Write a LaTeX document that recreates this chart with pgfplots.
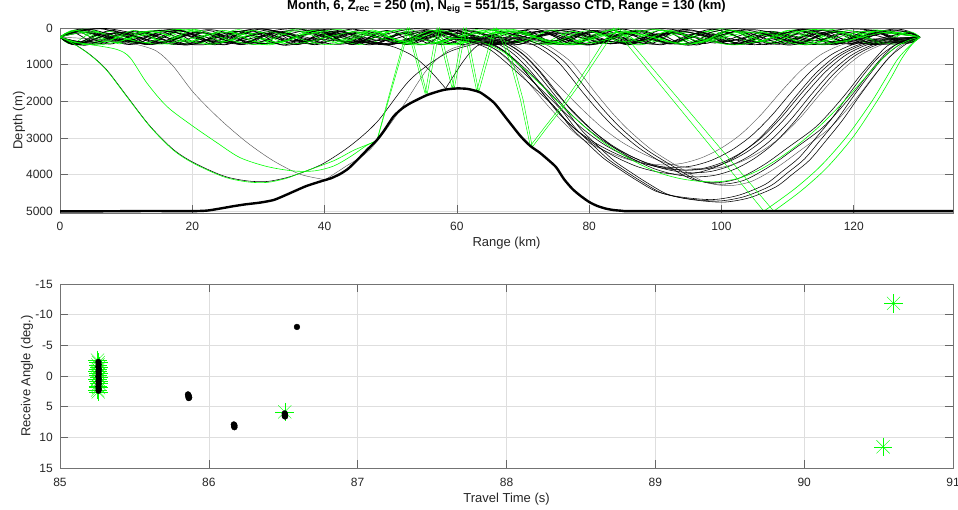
\documentclass[border=0pt]{standalone}
\usepackage{pgfplots}
\usepackage{pgfplotstable}
\pgfplotsset{compat=1.18}
\usepackage{fontspec}
\setmainfont{Liberation Sans}

\definecolor{rgreen}{rgb}{0,1,0}

\pgfplotsset{
  mstyle/.style={
    scale only axis, width=893pt,
    axis line style={draw=black!55, line width=0.6pt},
    tick align=inside, major tick length=8pt,
    tick style={black!60, line width=0.6pt},
    grid=major, major grid style={black!13, line width=0.5pt},
    ticklabel style={font=\fontsize{12}{14}\selectfont, text=black!85},
    label style={font=\fontsize{13}{15}\selectfont, text=black!85},
    /pgf/number format/assume math mode=true,
    /pgf/number format/1000 sep={},
    scaled ticks=false,
  },
  blkch/.style={no markers, color=black, line width=0.7pt, smooth, tension=0.5},
  blkray/.style={no markers, color=black, line width=0.55pt, smooth, tension=0.5},
  fntray/.style={no markers, color=black!65, line width=0.45pt, smooth, tension=0.5},
  grnray/.style={no markers, color=rgreen, line width=0.6pt, smooth, tension=0.5},
  grnsharp/.style={no markers, color=rgreen, line width=0.5pt, sharp plot},
}

% arrivals: travel time (s), receive angle (deg)
\pgfplotstableread{
t       a
85.252  -2.6
85.258  -2.2
85.254  -1.8
85.262  -1.5
85.256  -1.1
85.252  -0.8
85.260  -0.4
85.255  -0.1
85.262  0.2
85.253  0.5
85.258  0.9
85.261  1.2
85.254  1.6
85.259  1.9
85.252  2.3
85.257  2.6
86.510  5.85
90.600  -11.85
90.530  11.55
}\greenarrivals
\pgfplotstableread{
t       a
85.258  -2.3
85.260  -1.9
85.258  -1.5
85.261  -1.1
85.259  -0.7
85.260  -0.3
85.258  0.1
85.261  0.5
85.259  0.9
85.260  1.3
85.258  1.7
85.260  2.1
85.259  2.4
85.860  3.0
85.865  3.2
85.862  3.35
85.868  3.5
85.865  3.6
86.168  7.9
86.172  8.05
86.170  8.2
86.172  8.35
86.510  6.1
86.512  6.3
86.510  6.5
86.512  6.6
86.592  -8.0
}\blackarrivals

\begin{document}
\begin{tikzpicture}
\useasboundingbox (0,0) rectangle (958pt,510pt);

% ---------------- arrivals ----------------
\begin{axis}[mstyle,
  at={(60pt,42pt)}, anchor=south west, height=184pt,
  xmin=85, xmax=91, ymin=-15, ymax=15, y dir=reverse,
  xtick={85,86,...,91}, ytick={-15,-10,...,15},
  xticklabel style={anchor=center, yshift=-14pt},
  yticklabel style={anchor=east, inner sep=0pt, xshift=-7pt},
  xlabel={Travel Time (s)}, ylabel={Receive Angle (deg.)},
  xlabel style={at={(axis description cs:0.5,-0.168)}, anchor=center},
  ylabel style={at={(axis description cs:-0.037,0.5)}, anchor=center},
]
% asterisks drawn as plus and cross overlaid
\addplot[only marks, mark=+, mark size=9.3pt, draw=rgreen] table[x=t, y=a] {\greenarrivals};
\addplot[only marks, mark=x, mark size=9.3pt, draw=rgreen] table[x=t, y=a] {\greenarrivals};
\addplot[only marks, mark=*, mark size=2.9pt, color=black] table[x=t, y=a] {\blackarrivals};
\end{axis}

% ---------------- ray paths ----------------
\begin{axis}[mstyle,
  at={(60pt,297pt)}, anchor=south west, height=185pt,
  xmin=0, xmax=135, ymin=0, ymax=5050, y dir=reverse,
  xtick={0,20,...,120}, ytick={0,1000,...,5000},
  xticklabel style={anchor=center, yshift=-13pt},
  yticklabel style={anchor=east, inner sep=0pt, xshift=-7pt},
  xlabel={Range (km)}, ylabel={Depth (m)},
  xlabel style={at={(axis description cs:0.5,-0.162)}, anchor=center},
  ylabel style={at={(axis description cs:-0.046,0.5)}, anchor=center},
  title={\bfseries Month, 6, Z\textsubscript{rec} = 250 (m), N\textsubscript{eig} = 551/15, Sargasso CTD, Range = 130 (km)},
  title style={at={(axis description cs:0.5,1.081)}, anchor=center, font=\fontsize{13}{15}\selectfont, text=black},
]
% channel rays (black)
\addplot[blkch] coordinates {(0,250)(2.5,80)(7.5,440)(12.5,95)(17.5,425)(22.5,70)(27.5,445)(32.5,90)(37.5,430)(42.5,80)(47.5,440)(52.5,100)(57.5,420)(62.5,75)(67.5,445)(72.5,85)(77.5,435)(82.5,80)(87.5,440)(92.5,95)(97.5,425)(102.5,70)(107.5,445)(112.5,90)(117.5,430)(122.5,80)(127.5,400)(130,250)};
\addplot[blkch] coordinates {(0,250)(3,410)(9,110)(15,400)(21,120)(27,415)(33,105)(39,405)(45,115)(51,410)(57,110)(63,400)(69,120)(75,415)(81,105)(87,405)(93,115)(99,410)(105,110)(111,400)(117,120)(123,415)(130,250)};
\addplot[blkch] coordinates {(0,250)(3.5,60)(10.5,450)(17.5,65)(24.5,445)(31.5,55)(38.5,455)(45.5,60)(52.5,450)(59.5,70)(66.5,445)(73.5,55)(80.5,450)(87.5,60)(94.5,455)(101.5,65)(108.5,445)(115.5,60)(122.5,450)(130,250)};
\addplot[blkch] coordinates {(0,250)(4,380)(12,140)(20,385)(28,135)(36,375)(44,145)(52,380)(60,140)(68,385)(76,135)(84,380)(92,145)(100,375)(108,140)(116,380)(124,140)(130,250)};
\addplot[blkch] coordinates {(0,250)(4.5,40)(13.5,430)(22.5,45)(31.5,425)(40.5,35)(49.5,435)(58.5,40)(67.5,430)(76.5,45)(85.5,425)(94.5,40)(103.5,435)(112.5,40)(121.5,430)(130,250)};
\addplot[blkch] coordinates {(0,250)(1.9,110)(5.7,420)(9.5,115)(13.3,425)(17.1,105)(20.9,420)(24.7,110)(28.5,415)(32.3,115)(36.1,425)(39.9,105)(43.7,420)(47.5,110)(51.3,415)(55.1,115)(58.9,425)(62.7,105)(66.5,420)(70.3,110)(74.1,415)(77.9,115)(81.7,425)(85.5,105)(89.3,420)(93.1,110)(96.9,415)(100.7,115)(104.5,425)(108.3,105)(112.1,420)(115.9,110)(119.7,415)(123.5,115)(127.3,400)(130,250)};
% channel rays (green)
\addplot[grnray] coordinates {(0,250)(2.5,430)(7.5,90)(12.5,425)(17.5,95)(22.5,435)(27.5,85)(32.5,430)(37.5,90)(42.5,425)(47.5,95)(52.5,430)(57.5,90)(62.5,435)(67.5,85)(72.5,430)(77.5,90)(82.5,425)(87.5,95)(92.5,430)(97.5,90)(102.5,435)(107.5,85)(112.5,430)(117.5,90)(122.5,425)(127.5,100)(130,250)};
\addplot[grnray] coordinates {(0,250)(3,50)(9,400)(15,55)(21,395)(27,45)(33,405)(39,50)(45,400)(51,55)(57,395)(63,45)(69,405)(75,50)(81,400)(87,55)(93,395)(99,45)(105,405)(111,50)(117,400)(123,55)(130,250)};
\addplot[grnray] coordinates {(0,250)(3.5,460)(10.5,120)(17.5,455)(24.5,125)(31.5,460)(38.5,115)(45.5,455)(52.5,120)(59.5,460)(66.5,125)(73.5,455)(80.5,120)(87.5,460)(94.5,115)(101.5,455)(108.5,120)(115.5,460)(122.5,125)(130,250)};
\addplot[grnray] coordinates {(0,250)(4,30)(12,420)(20,35)(28,415)(36,25)(44,420)(52,30)(60,425)(68,35)(76,415)(84,30)(92,420)(100,25)(108,420)(116,30)(124,415)(130,250)};
\addplot[grnray] coordinates {(0,250)(1.8,440)(5.4,90)(9,435)(12.6,95)(16.2,440)(19.8,85)(23.4,445)(27,90)(30.6,440)(34.2,95)(37.8,435)(41.4,90)(45,440)(48.6,85)(52.2,445)(55.8,90)(59.4,440)(63,95)(66.6,435)(70.2,90)(73.8,440)(77.4,85)(81,445)(84.6,90)(88.2,440)(91.8,95)(95.4,435)(99,90)(102.6,440)(106.2,85)(109.8,445)(113.4,90)(117,440)(120.6,95)(124.2,435)(127.8,120)(130,250)};
% more channel rays (black)
\addplot[blkch] coordinates {(0,250)(2.75,460)(8.25,150)(13.75,455)(19.25,155)(24.75,460)(30.25,145)(35.75,455)(41.25,150)(46.75,460)(52.25,150)(57.75,455)(63.25,145)(68.75,460)(74.25,155)(79.75,455)(85.25,150)(90.75,460)(96.25,145)(101.75,455)(107.25,150)(112.75,460)(118.25,155)(123.75,455)(130,250)};
\addplot[blkch] coordinates {(0,250)(5,400)(15,70)(25,395)(35,75)(45,405)(55,70)(65,400)(75,65)(85,400)(95,75)(105,395)(115,70)(125,400)(130,250)};
\addplot[blkch] coordinates {(0,250)(3.25,100)(9.75,350)(16.25,95)(22.75,355)(29.25,100)(35.75,345)(42.25,105)(48.75,350)(55.25,95)(61.75,355)(68.25,100)(74.75,350)(81.25,105)(87.75,345)(94.25,100)(100.75,355)(107.25,95)(113.75,350)(120.25,100)(126.75,350)(130,250)};
\addplot[blkch] coordinates {(0,250)(2.25,440)(6.75,130)(11.25,435)(15.75,135)(20.25,440)(24.75,125)(29.25,445)(33.75,130)(38.25,440)(42.75,135)(47.25,435)(51.75,130)(56.25,440)(60.75,125)(65.25,445)(69.75,130)(74.25,440)(78.75,135)(83.25,435)(87.75,130)(92.25,440)(96.75,125)(101.25,445)(105.75,130)(110.25,440)(114.75,135)(119.25,435)(123.75,130)(128.25,400)(130,250)};
\addplot[blkch] coordinates {(0,250)(6,20)(18,450)(30,25)(42,445)(54,20)(66,450)(78,25)(90,445)(102,20)(114,450)(126,30)(130,250)};
\addplot[blkch] coordinates {(0,250)(2.6,460)(7.8,60)(13,455)(18.2,65)(23.4,460)(28.6,55)(33.8,465)(39,60)(44.2,455)(49.4,65)(54.6,460)(59.8,55)(65,465)(70.2,60)(75.4,455)(80.6,65)(85.8,460)(91,55)(96.2,465)(101.4,60)(106.6,455)(111.8,65)(117,460)(122.2,60)(127.4,420)(130,250)};
\addplot[blkch] coordinates {(0,250)(3.4,30)(10.2,380)(17,35)(23.8,385)(30.6,25)(37.4,375)(44.2,30)(51,380)(57.8,35)(64.6,385)(71.4,25)(78.2,380)(85,30)(91.8,385)(98.6,35)(105.4,380)(112.2,30)(119,375)(125.8,60)(130,250)};
\addplot[blkch] coordinates {(0,250)(3.8,470)(11.4,90)(19,465)(26.6,95)(34.2,470)(41.8,85)(49.4,465)(57,90)(64.6,470)(72.2,95)(79.8,465)(87.4,90)(95,470)(102.6,85)(110.2,465)(117.8,90)(125.4,440)(130,250)};
\addplot[blkch] coordinates {(0,250)(5.5,440)(16.5,50)(27.5,445)(38.5,45)(49.5,440)(60.5,55)(71.5,445)(82.5,50)(93.5,440)(104.5,45)(115.5,445)(126.5,80)(130,250)};
\addplot[blkch] coordinates {(0,250)(7,15)(21,460)(35,20)(49,455)(63,15)(77,460)(91,20)(105,455)(119,25)(130,250)};
\addplot[blkch] coordinates {(0,250)(4.4,130)(13.2,430)(22,135)(30.8,425)(39.6,130)(48.4,435)(57.2,125)(66,430)(74.8,135)(83.6,425)(92.4,130)(101.2,435)(110,125)(118.8,430)(127.6,150)(130,250)};
\addplot[blkch] coordinates {(0,250)(2.1,450)(6.3,160)(10.5,445)(14.7,165)(18.9,450)(23.1,155)(27.3,455)(31.5,160)(35.7,450)(39.9,165)(44.1,445)(48.3,160)(52.5,450)(56.7,155)(60.9,455)(65.1,160)(69.3,450)(73.5,165)(77.7,445)(81.9,160)(86.1,450)(90.3,155)(94.5,455)(98.7,160)(102.9,450)(107.1,165)(111.3,445)(115.5,160)(119.7,450)(123.9,155)(128.1,420)(130,250)};
% more channel rays (green)
\addplot[grnray] coordinates {(0,250)(4.5,450)(13.5,100)(22.5,445)(31.5,105)(40.5,455)(49.5,95)(58.5,450)(67.5,100)(76.5,445)(85.5,105)(94.5,450)(103.5,100)(112.5,455)(121.5,95)(130,250)};
\addplot[grnray] coordinates {(0,250)(2.75,70)(8.25,390)(13.75,75)(19.25,385)(24.75,65)(30.25,395)(35.75,70)(41.25,390)(46.75,75)(52.25,385)(57.75,65)(63.25,395)(68.75,70)(74.25,390)(79.75,75)(85.25,385)(90.75,65)(96.25,395)(101.75,70)(107.25,390)(112.75,75)(118.25,385)(123.75,70)(130,250)};
\addplot[grnray] coordinates {(0,250)(5,110)(15,440)(25,115)(35,435)(45,105)(55,440)(65,110)(75,445)(85,115)(95,435)(105,110)(115,440)(125,115)(130,250)};
\addplot[grnray] coordinates {(0,250)(2.25,60)(6.75,370)(11.25,65)(15.75,365)(20.25,55)(24.75,375)(29.25,60)(33.75,370)(38.25,65)(42.75,365)(47.25,55)(51.75,375)(56.25,60)(60.75,370)(65.25,65)(69.75,365)(74.25,55)(78.75,375)(83.25,60)(87.75,370)(92.25,65)(96.75,365)(101.25,55)(105.75,375)(110.25,60)(114.75,370)(119.25,65)(123.75,365)(128.25,100)(130,250)};
\addplot[grnray] coordinates {(0,250)(6,460)(18,40)(30,455)(42,45)(54,460)(66,40)(78,455)(90,45)(102,460)(114,40)(126,440)(130,250)};

% deep refracted rays, right basin (black bundles)
\addplot[blkray] coordinates {(60,250)(63,300)(66,420)(68.5,700)(71,1150)(73.5,1700)(76,2250)(79,2750)(82,3150)(85,3450)(88,3680)(91,3820)(94,3880)(97,3840)(100,3680)(103,3400)(106,3000)(109,2450)(112,1800)(115,1200)(118,750)(121,480)(124,340)(127,280)(130,250)};
\addplot[blkray] coordinates {(61.5,250)(64.5,301)(67.5,423)(70,709)(72.5,1168)(75,1729)(77.5,2290)(80.5,2800)(83.5,3208)(86.5,3514)(89.5,3749)(92.5,3892)(95.5,3953)(98.5,3912)(101.5,3749)(104.5,3463)(107.5,3055)(110.5,2494)(113.5,1831)(116.5,1219)(119.5,760)(122.5,485)(125.5,342)(128.5,281)(130,250)};
\addplot[fntray] coordinates {(62,250)(65,300)(68,418)(70.5,696)(73,1141)(76,1686)(79,2231)(82,2726)(85,3122)(88,3419)(91,3646)(94,3785)(97,3844)(100,3804)(103,3646)(106,3369)(109,2973)(112,2428)(115,1784)(118,1189)(121,743)(124,475)(127,336)(130,250)};
\addplot[blkray] coordinates {(59,250)(62,299)(65,416)(67.5,691)(70,1132)(72.5,1671)(75,2210)(77.5,2700)(80.5,3092)(83.5,3386)(86.5,3611)(89.5,3748)(92.5,3807)(95.5,3768)(98.5,3611)(101.5,3337)(104.5,2945)(107.5,2406)(110.5,1769)(113.5,1181)(116.5,740)(119.5,475)(122.5,338)(125.5,279)(130,250)};
\addplot[blkray] coordinates {(62,250)(65,303)(67.5,429)(70,723)(72.5,1196)(75,1774)(78,2351)(81,2876)(84,3296)(87,3611)(90,3853)(93,4000)(96,4063)(99,4021)(102,3853)(105,3558)(108,3138)(111,2561)(114,1879)(117,1249)(120,777)(123,494)(126,347)(130,250)};
\addplot[fntray] coordinates {(58,250)(61,298)(64,413)(66.5,682)(69,1114)(71.5,1642)(74,2170)(76.5,2650)(79,3034)(82,3322)(85,3542)(88,3677)(91,3735)(94,3696)(97,3542)(100,3274)(103,2890)(106,2362)(109,1738)(112,1162)(115,730)(118,470)(121,336)(124,279)(130,250)};
\addplot[blkray] coordinates {(60.7,250)(63.7,300)(66.7,420)(69.2,700)(71.7,1150)(74.2,1700)(76.7,2250)(79.7,2750)(82.7,3150)(85.7,3450)(88.7,3680)(91.7,3820)(94.7,3880)(97.7,3840)(100.7,3680)(103.7,3400)(106.7,3000)(109.7,2450)(112.7,1800)(115.7,1200)(118.7,750)(121.7,480)(124.7,340)(127.7,280)(130,250)};
\addplot[blkray] coordinates {(59.3,250)(62.3,302)(65.3,426)(67.8,714)(70.3,1178)(72.8,1744)(75.3,2311)(78.3,2826)(81.3,3238)(84.3,3548)(87.3,3785)(90.3,3929)(93.3,3991)(96.3,3950)(99.3,3785)(102.3,3496)(105.3,3084)(108.3,2518)(111.3,1848)(114.3,1228)(117.3,764)(120.3,486)(123.3,342)(126.3,281)(130,250)};
% middle bundle
\addplot[blkray] coordinates {(66,250)(70,300)(73,500)(76,880)(78,1300)(80,1766)(82.5,2300)(85,2766)(88.5,3300)(92.6,3766)(96.3,4150)(99.9,4265)(103.5,4150)(107.4,3766)(111,3300)(115,2766)(117.5,2300)(120,1766)(122,1300)(124,858)(126,500)(128,320)(130,250)};
\addplot[fntray] coordinates {(67,250)(71,300)(74,503)(77,886)(79,1311)(81,1781)(83.5,2321)(86,2791)(89.5,3331)(93.6,3801)(97.3,4189)(100.9,4305)(104.5,4189)(108.4,3801)(112,3331)(116,2791)(118.5,2321)(121,1781)(123,1311)(125,886)(127,503)(129,321)(130,250)};
\addplot[blkray] coordinates {(65,250)(69,300)(72,498)(75,874)(77,1289)(79,1751)(81.5,2280)(84,2741)(87.5,3270)(91.6,3736)(95.3,4111)(98.9,4225)(102.5,4111)(106.4,3736)(110,3270)(114,2741)(116.5,2280)(119,1751)(121,1289)(123,874)(125,498)(127,319)(130,250)};
% deepest bundle
\addplot[blkray] coordinates {(60,300)(63,380)(66,600)(69,1050)(72,1550)(75.7,2221)(78,2750)(80.7,3221)(83,3600)(85.8,3946)(88,4200)(90.8,4491)(93.5,4620)(96.9,4700)(99.9,4720)(103.5,4600)(107.4,4310)(110,3950)(112.5,3583)(115,3050)(117.5,2494)(120,1850)(122.6,1221)(124.5,800)(126.6,496)(128.5,320)(130,250)};
\addplot[blkray] coordinates {(61,300)(64,385)(67,610)(70,1060)(73,1570)(76.5,2250)(78.8,2780)(81.5,3250)(83.8,3630)(86.6,3975)(88.8,4230)(91.6,4520)(94.3,4650)(97.7,4730)(100.7,4750)(104.3,4630)(108.2,4340)(110.8,3980)(113.3,3610)(115.8,3075)(118.3,2515)(120.8,1870)(123.4,1235)(125.3,810)(127.4,500)(129,320)(130,250)};
\addplot[blkray] coordinates {(59,300)(62,375)(65,590)(68,1030)(71,1520)(74.9,2180)(77.2,2710)(79.9,3180)(82.2,3560)(85,3905)(87.2,4160)(90,4450)(92.7,4580)(96.1,4660)(99.1,4680)(102.7,4560)(106.6,4270)(109.2,3910)(111.7,3545)(114.2,3015)(116.7,2465)(119.2,1825)(121.8,1200)(123.8,790)(126,490)(128.2,320)(130,250)};
% green ray through the right basin
\addplot[grnray] coordinates {(58,250)(61,300)(64,400)(67,650)(70,1100)(73,1600)(76,2150)(79,2650)(82,3100)(85,3450)(88,3750)(91,3980)(94,4120)(97,4190)(100,4190)(103,4080)(106,3850)(109,3520)(112,3120)(115,2650)(118,2100)(121,1500)(124,900)(126.5,500)(128.5,320)(130,250)};

% steep rays from the source, left basin
\addplot[blkray] coordinates {(0,250)(2,420)(4.5,720)(7,1130)(10.1,1858)(13.6,2676)(17.1,3311)(20.2,3674)(24.7,4038)(28.3,4174)(31.3,4190)(34.3,4083)(37,3920)(40,3680)(44,3200)(48,2550)(53,1400)(58.5,680)(63.6,400)(67,280)(70,250)};
\addplot[fntray] coordinates {(0,250)(5,300)(9,380)(11.6,450)(14.6,632)(17.1,1040)(20.2,1766)(24.2,2494)(28.3,3128)(32.3,3630)(36.3,3992)(40.1,4140)};
\addplot[fntray] coordinates {(40.1,4140)(43,3800)(46.9,3311)(51.5,2221)(55.5,1131)(59,586)(63.1,403)(66,300)(69,250)};
\addplot[blkray] coordinates {(0,250)(3,420)(9,120)(15,430)(21,110)(27,420)(33,130)(38,280)(42,350)(47.4,395)(50.5,520)(53.4,768)(56,1180)(58.3,1650)};
\addplot[blkray] coordinates {(58.3,1650)(61,900)(63,496)(65.5,350)(68,300)};
% green rays with bottom and surface bounces
\addplot[grnray] coordinates {(0,250)(2,380)(4.5,450)(8.6,586)(10.6,812)(13.1,1494)(16.1,2131)(19.7,2630)(23.7,3128)(27.2,3537)(31.3,3782)(35.3,3902)(38.5,3900)(41.4,3766)(44,3500)(46.4,3200)(47.9,3075)};
\addplot[grnsharp] coordinates {(47.9,3075)(52.5,0)(55.2,1790)(57,0)(59.3,1660)(61,0)(63,1722)(65.6,0)(66.8,350)(68.1,950)(69.6,1950)(71.1,3221)(73.3,2700)(75.7,2150)(78,1550)(80,1000)(82,430)(83.7,0)(106.4,5000)};
\addplot[grnray] coordinates {(106.4,5000)(111,4400)(115,3766)(119,2950)(122.6,2038)(124.6,1450)(126.6,858)(128.5,480)(130,250)};
\addplot[grnray] coordinates {(0,250)(2,425)(4.5,730)(7,1145)(10.1,1875)(13.6,2690)(17.1,3330)(20.2,3695)(24.7,4060)(28.3,4200)(31.3,4215)(34.3,4100)(36.3,3960)(41.3,3630)(44.5,3330)(47.9,3085)};
\addplot[grnsharp] coordinates {(47.9,3085)(52.8,0)(55.5,1810)(57.4,0)(59.6,1650)(61.4,0)(63.3,1745)(66,0)(67.2,350)(68.5,950)(70,1950)(71.4,3250)(73.7,2700)(76.1,2150)(78.5,1550)(80.5,1000)(82.6,430)(84.4,0)(107.9,5000)};
\addplot[grnray] coordinates {(107.9,5000)(112,4450)(116,3800)(120,2950)(123.5,2000)(125.5,1400)(127.3,820)(128.8,450)(130,250)};

% bathymetry
\addplot[no markers, color=black, line width=2.4pt, smooth, tension=0.4] coordinates {(0,5005)(5,5005)(10,5000)(14,4995)(17,5000)(20,5000)(22.2,4985)(24,4935)(26.2,4865)(28,4815)(30.3,4765)(32.3,4695)(34,4570)(35.5,4450)(37.3,4310)(39.8,4165)(41,4100)(42.4,3980)(43.5,3850)(44.4,3700)(45.5,3500)(46.4,3330)(47.9,3060)(49,2800)(50.4,2420)(51.7,2200)(53,2050)(55.5,1830)(58,1690)(60,1650)(61.5,1660)(62.5,1700)(63.6,1766)(65.6,2038)(67.6,2494)(69.6,2948)(71.1,3221)(72.5,3400)(73.7,3583)(75,3800)(76.2,4128)(77.5,4400)(78.7,4583)(80,4750)(81.2,4856)(82.5,4930)(83.7,4970)(85,4990)(86.3,5000)(100,5000)(127,5000)(135,5000)};
\end{axis}
\end{tikzpicture}
\end{document}
